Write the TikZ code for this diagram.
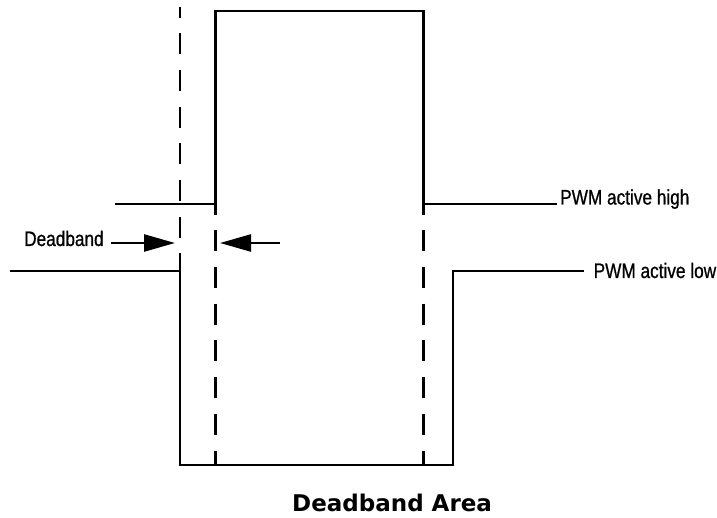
\documentclass[tikz,border=0pt]{standalone}
\usepackage{fontspec}
\usetikzlibrary{arrows.meta}
\newfontfamily\lblfont{Liberation Sans}[FakeStretch=0.82,FakeBold=0.8]
\newfontfamily\ttlfont{DejaVu Sans}
\begin{document}
\begin{tikzpicture}[x=1pt,y=-1pt,
  wave/.style={line width=2.4pt, line join=miter},
  dashline/.style={line width=2.4pt, dash pattern=on 21pt off 15.7pt},
  lbl/.style={font=\lblfont\fontsize{21}{24}\selectfont, inner sep=0pt},
  arr/.style={line width=2.4pt, -{Triangle[length=31pt,width=17pt]}}]
\useasboundingbox (0,0) rectangle (717,518);
% PWM active high
\coordinate (h0) at (115,204);
\coordinate (h1) at (215.5,204);
\coordinate (h2) at (215.5,11);
\coordinate (h3) at (423.5,11);
\coordinate (h4) at (423.5,204);
\node[lbl, anchor=base west] (hl) at (560,204.5) {PWM active high};
\draw[wave, shorten >=3pt] (h0) -- (h1) -- (h2) -- (h3) -- (h4) -- (h4 -| hl.west);
% PWM active low
\coordinate (l0) at (10,271);
\coordinate (l1) at (180,271);
\coordinate (l2) at (180,465);
\coordinate (l3) at (453,465);
\coordinate (l4) at (453,271);
\node[lbl, anchor=base west] (ll) at (593.5,278) {PWM active low};
\draw[wave, shorten >=10pt] (l0) -- (l1) -- (l2) -- (l3) -- (l4) -- (l4 -| ll.west);
% dashed guides
\coordinate (d1t) at (180,6.7);
\draw[dashline, dash phase=10.1pt] (d1t) -- (l1);
\draw[dashline, dash phase=10.4pt] (h1) -- (h1 |- l3);
\draw[dashline, dash phase=10.4pt] (h4) -- (h4 |- l3);
% deadband arrows
\node[lbl, anchor=base west] (db) at (24,246) {Deadband};
\coordinate (a1) at (175,243);
\coordinate (a2s) at (280,243);
\coordinate (a2) at (220,243);
\draw[arr, shorten <=7pt] (db.east |- a1) -- (a1);
\draw[arr] (a2s) -- (a2);
% title
\node[font=\ttlfont\bfseries\fontsize{23}{26}\selectfont, anchor=base west, inner sep=0pt] (title) at (292,511) {Deadband Area};
\end{tikzpicture}
\end{document}
